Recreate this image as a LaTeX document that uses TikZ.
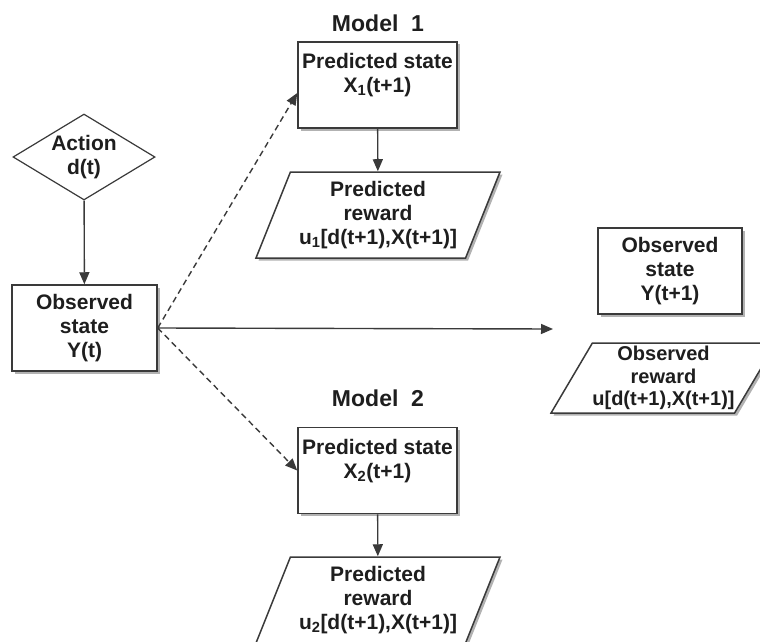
\documentclass[tikz,border=0pt]{standalone}
\usepackage{fontspec}
\setmainfont{Liberation Sans}
\usepackage{tikz}
\usetikzlibrary{shapes.geometric, arrows.meta, shadows}
\definecolor{linegray}{HTML}{3A3A3A}
\definecolor{textgray}{HTML}{1E1E1E}
\tikzstyle{boxshadow} = [drop shadow={shadow xshift=2.5pt, shadow yshift=-2.5pt, fill=black, opacity=0.3}]
\tikzstyle{state} = [rectangle, minimum width=145pt, minimum height=86pt, inner sep=0pt, text centered, align=center, draw=linegray, line width=1.5pt, fill=white, text=textgray, boxshadow, font=\fontsize{21pt}{24pt}\selectfont\bfseries]
\tikzstyle{decision} = [diamond, shape aspect=1.65, minimum width=142pt, minimum height=86pt, inner sep=0pt, align=center, draw=linegray, line width=1.2pt, fill=white, text=textgray, font=\fontsize{21pt}{24pt}\selectfont\bfseries]
\tikzstyle{reward} = [trapezium, trapezium left angle=63, trapezium right angle=117, trapezium stretches body, minimum width=244pt, minimum height=86pt, inner sep=0pt, align=center, draw=linegray, line width=1.5pt, fill=white, text=textgray, boxshadow, font=\fontsize{21pt}{24pt}\selectfont\bfseries]
\tikzstyle{title} = [text=textgray, font=\fontsize{23pt}{26pt}\selectfont\bfseries]
\tikzstyle{arrow} = [line width=1.4pt, draw=linegray, -{Triangle[length=12pt,width=10pt]}]
\tikzstyle{dasharrow} = [arrow, dash pattern=on 6pt off 4pt]
\begin{document}
\begin{tikzpicture}[x=1pt, y=-1pt]
\useasboundingbox (0,0) rectangle (760,642);
% Nodes
\node (action) [decision] at (84,157) {Action\\d(t)};
\node (obs) [state] at (84.5,328) {Observed\\state\\Y(t)};
\node (model1) [title] at (378,23) {Model~~1};
\node (pred1) [state, minimum width=159pt] at (377.5,85) {Predicted state\\X\textsubscript{1}(t+1)\\~};
\node (rew1) [reward] at (378,215) {Predicted\\reward\\u\textsubscript{1}[d(t+1),X(t+1)]};
\node (model2) [title] at (378,398) {Model~~2};
\node (pred2) [state, minimum width=159pt] at (377.5,470.5) {Predicted state\\X\textsubscript{2}(t+1)\\~};
\node (rew2) [reward] at (378,600) {Predicted\\reward\\u\textsubscript{2}[d(t+1),X(t+1)]};
\node (obsnext) [state, minimum width=144pt] at (670,271) {Observed\\state\\Y(t+1)};
\node (obsrew) [reward, trapezium left angle=57, trapezium right angle=123, minimum width=213pt, minimum height=70pt, font=\fontsize{20pt}{22.5pt}\selectfont\bfseries] at (663.5,378) {Observed\\reward\\u[d(t+1),X(t+1)]};
\coordinate (next) at (553,329);

% Arrows
\draw [arrow] (action) -- (obs);
\draw [arrow] (pred1) -- (rew1);
\draw [arrow] (pred2) -- (rew2);
\draw [arrow] (obs.east) -- (next);
\draw [dasharrow] (obs.east) -- ([yshift=-8pt]pred1.west);
\draw [dasharrow] (obs.east) -- (pred2.west);
\end{tikzpicture}
\end{document}
